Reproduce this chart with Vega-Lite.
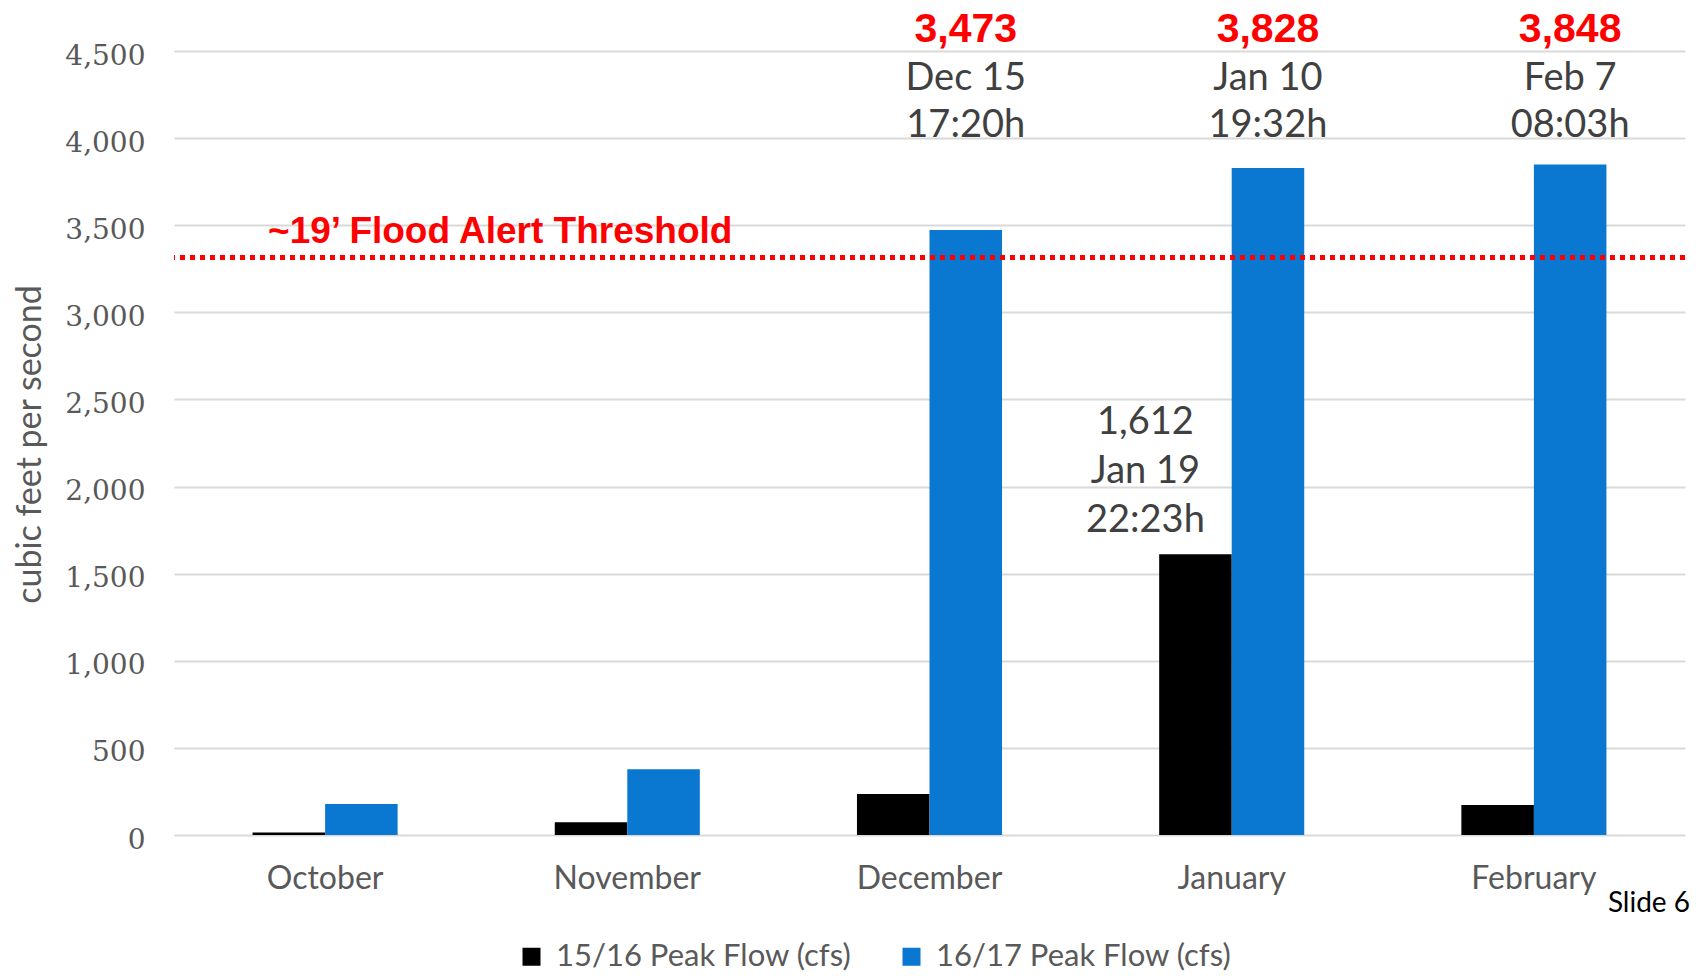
{
  "$schema": "https://vega.github.io/schema/vega-lite/v6.json",
  "width": 1511,
  "height": 784,
  "autosize": {"type": "none"},
  "padding": {"left": 174, "top": 51, "right": 13, "bottom": 141},
  "background": "white",
  "config": {"view": {"stroke": null}, "font": "Lato"},
  "datasets": {
    "bars": [
      {"month": "October", "series": "15/16 Peak Flow (cfs)", "flow": 15},
      {"month": "October", "series": "16/17 Peak Flow (cfs)", "flow": 178},
      {"month": "November", "series": "15/16 Peak Flow (cfs)", "flow": 73},
      {"month": "November", "series": "16/17 Peak Flow (cfs)", "flow": 378},
      {"month": "December", "series": "15/16 Peak Flow (cfs)", "flow": 235},
      {"month": "December", "series": "16/17 Peak Flow (cfs)", "flow": 3473},
      {"month": "January", "series": "15/16 Peak Flow (cfs)", "flow": 1612},
      {"month": "January", "series": "16/17 Peak Flow (cfs)", "flow": 3828},
      {"month": "February", "series": "15/16 Peak Flow (cfs)", "flow": 172},
      {"month": "February", "series": "16/17 Peak Flow (cfs)", "flow": 3848}
    ],
    "threshold": [
      {"threshold": 3315, "label": "~19’ Flood Alert Threshold"}
    ],
    "peaks": [
      {"month": "December", "series": "16/17 Peak Flow (cfs)", "num": "3,473", "when": "Dec 15\n17:20h"},
      {"month": "January", "series": "16/17 Peak Flow (cfs)", "num": "3,828", "when": "Jan 10\n19:32h"},
      {"month": "February", "series": "16/17 Peak Flow (cfs)", "num": "3,848", "when": "Feb 7\n08:03h"}
    ],
    "oldpeak": [
      {"month": "January", "series": "15/16 Peak Flow (cfs)", "flow": 1612, "label": "1,612\nJan 19\n22:23h"}
    ],
    "slide": [
      {"month": "February", "text": "Slide 6"}
    ]
  },
  "layer": [
    {
      "data": {"name": "bars"},
      "mark": {"type": "bar"},
      "encoding": {
        "x": {
          "field": "month", "type": "nominal", "title": null,
          "sort": ["October", "November", "December", "January", "February"],
          "scale": {"domain": ["October", "November", "December", "January", "February"], "paddingInner": 0.52, "paddingOuter": 0.26},
          "axis": {"domain": false, "ticks": false, "labelAngle": 0, "labelFont": "Lato", "labelFontSize": 32, "labelColor": "#595959", "labelPadding": 28, "labelBaseline": "top"}
        },
        "xOffset": {"field": "series", "type": "nominal", "scale": {"domain": ["15/16 Peak Flow (cfs)", "16/17 Peak Flow (cfs)"], "paddingInner": 0, "paddingOuter": 0}},
        "y": {
          "field": "flow", "type": "quantitative", "title": "cubic feet per second",
          "scale": {"domain": [0, 4500], "nice": false},
          "axis": {
            "values": [0, 500, 1000, 1500, 2000, 2500, 3000, 3500, 4000, 4500],
            "format": ",d", "domain": false, "ticks": false,
            "gridColor": "#d9d9d9", "gridWidth": 2,
            "labelFont": "DejaVu Serif", "labelFontSize": 28, "labelColor": "#595959",
            "labelPadding": 29, "labelBaseline": "middle", "labelOffset": 5,
            "titleFont": "Lato", "titleFontSize": 34, "titleFontWeight": "normal", "titleColor": "#595959",
            "titleX": -134, "titleY": 393, "titleAngle": -90, "titleAlign": "center", "titleBaseline": "alphabetic"
          }
        },
        "color": {
          "field": "series", "type": "nominal",
          "scale": {"domain": ["15/16 Peak Flow (cfs)", "16/17 Peak Flow (cfs)"], "range": ["#000000", "#0a77d0"]},
          "legend": {
            "orient": "none", "legendX": 342, "legendY": 890, "direction": "horizontal", "title": null,
            "symbolType": "square", "symbolSize": 324, "symbolStrokeWidth": 0, "symbolOpacity": 1,
            "labelFont": "Lato", "labelFontSize": 31, "labelColor": "#595959", "labelOffset": 9, "columnPadding": 44,
            "labelLimit": 500
          }
        }
      }
    },
    {
      "data": {"name": "threshold"},
      "mark": {"type": "rule", "color": "#ff0000", "strokeWidth": 5, "strokeDash": [5, 5]},
      "encoding": {
        "y": {"field": "threshold", "type": "quantitative", "title": "cubic feet per second"}
      }
    },
    {
      "data": {"name": "threshold"},
      "mark": {"type": "text", "align": "left", "baseline": "alphabetic", "dx": -57, "dy": -14, "font": "Liberation Sans", "fontWeight": "bold", "fontSize": 37, "color": "#ff0000"},
      "encoding": {
        "x": {"datum": "October", "type": "nominal", "title": null, "sort": ["October", "November", "December", "January", "February"]},
        "y": {"field": "threshold", "type": "quantitative", "title": "cubic feet per second"},
        "text": {"field": "label", "type": "nominal"}
      }
    },
    {
      "data": {"name": "peaks"},
      "mark": {"type": "text", "align": "center", "baseline": "alphabetic", "dy": -9, "font": "Liberation Sans", "fontWeight": "bold", "fontSize": 41, "color": "#ff0000"},
      "encoding": {
        "x": {"field": "month", "type": "nominal", "title": null, "sort": ["October", "November", "December", "January", "February"]},
        "xOffset": {"field": "series", "type": "nominal"},
        "y": {"datum": 4500, "type": "quantitative", "title": "cubic feet per second"},
        "text": {"field": "num", "type": "nominal"}
      }
    },
    {
      "data": {"name": "peaks"},
      "mark": {"type": "text", "align": "center", "baseline": "alphabetic", "dy": 39, "lineBreak": "\n", "lineHeight": 47, "font": "Lato", "fontSize": 38, "color": "#404040"},
      "encoding": {
        "x": {"field": "month", "type": "nominal", "title": null, "sort": ["October", "November", "December", "January", "February"]},
        "xOffset": {"field": "series", "type": "nominal"},
        "y": {"datum": 4500, "type": "quantitative", "title": "cubic feet per second"},
        "text": {"field": "when", "type": "nominal"}
      }
    },
    {
      "data": {"name": "oldpeak"},
      "mark": {"type": "text", "align": "center", "baseline": "alphabetic", "dx": -50, "dy": -120, "lineBreak": "\n", "lineHeight": 49, "font": "Lato", "fontSize": 38, "color": "#404040"},
      "encoding": {
        "x": {"field": "month", "type": "nominal", "title": null, "sort": ["October", "November", "December", "January", "February"]},
        "xOffset": {"field": "series", "type": "nominal"},
        "y": {"field": "flow", "type": "quantitative", "title": "cubic feet per second"},
        "text": {"field": "label", "type": "nominal"}
      }
    },
    {
      "data": {"name": "slide"},
      "mark": {"type": "text", "align": "left", "baseline": "alphabetic", "dx": 74, "dy": 77, "font": "Lato", "fontSize": 28, "color": "#000000"},
      "encoding": {
        "x": {"field": "month", "type": "nominal", "title": null, "sort": ["October", "November", "December", "January", "February"]},
        "y": {"datum": 0, "type": "quantitative", "title": "cubic feet per second"},
        "text": {"field": "text", "type": "nominal"}
      }
    }
  ]
}
